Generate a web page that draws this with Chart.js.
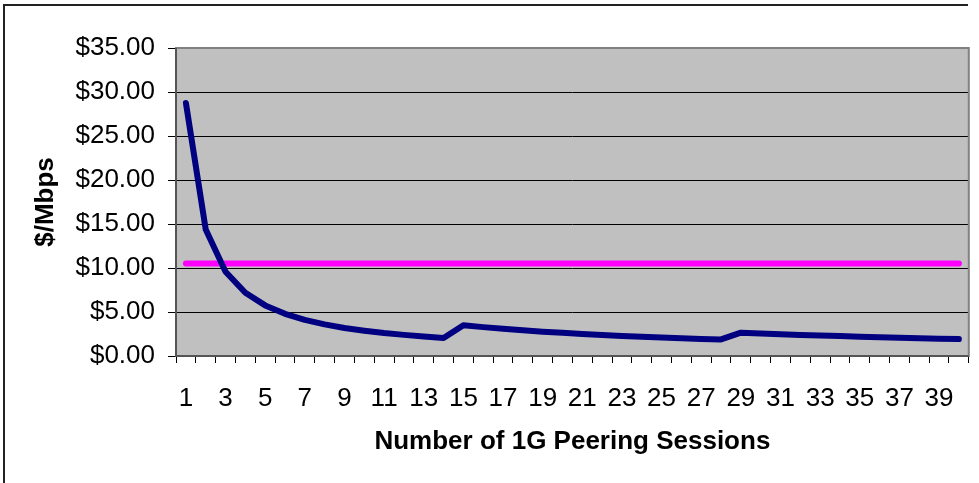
<!DOCTYPE html>
<html>
<head>
<meta charset="utf-8">
<script src="https://cdn.jsdelivr.net/npm/chart.js@4/dist/chart.umd.min.js"></script>
<style>
  html, body { margin: 0; padding: 0; background: #fff; }
  #wrap { width: 979px; height: 483px; position: relative; }
</style>
</head>
<body>
<div id="wrap"><canvas id="cost"></canvas></div>
<script>
const sessions = ['1','2','3','4','5','6','7','8','9','10','11','12','13','14','15','16','17','18','19','20',
  '21','22','23','24','25','26','27','28','29','30','31','32','33','34','35','36','37','38','39','40'];
const costPerMbps = [28.75, 14.38, 9.58, 7.19, 5.75, 4.79, 4.11, 3.59, 3.19, 2.88,
  2.61, 2.40, 2.21, 2.05, 3.50, 3.28, 3.09, 2.92, 2.76, 2.63,
  2.50, 2.39, 2.28, 2.19, 2.10, 2.02, 1.94, 1.88, 2.65, 2.56,
  2.48, 2.40, 2.33, 2.26, 2.20, 2.13, 2.08, 2.02, 1.97, 1.92];
const transitPrice = [10.5, 10.5, 10.5, 10.5, 10.5, 10.5, 10.5, 10.5, 10.5, 10.5,
  10.5, 10.5, 10.5, 10.5, 10.5, 10.5, 10.5, 10.5, 10.5, 10.5,
  10.5, 10.5, 10.5, 10.5, 10.5, 10.5, 10.5, 10.5, 10.5, 10.5,
  10.5, 10.5, 10.5, 10.5, 10.5, 10.5, 10.5, 10.5, 10.5, 10.5];
const yTicks = [0, 5, 10, 15, 20, 25, 30, 35];

const FONT = "Arial, 'Liberation Sans', sans-serif";

// grey plot area, its border and the outer frame
const plotBox = {
  id: 'plotBox',
  beforeDraw(chart) {
    const { ctx, chartArea: a } = chart;
    ctx.save();
    ctx.fillStyle = '#c0c0c0';
    ctx.fillRect(a.left, a.top, a.right - a.left, a.bottom - a.top);
    ctx.strokeStyle = '#222';
    ctx.lineWidth = 2;
    ctx.beginPath();
    ctx.moveTo(4, 483);
    ctx.lineTo(4, 5);
    ctx.lineTo(968, 5);
    ctx.stroke();
    ctx.restore();
  },
  beforeDatasetsDraw(chart) {
    const { ctx, chartArea: a } = chart;
    ctx.save();
    ctx.strokeStyle = '#808080';
    ctx.lineWidth = 2;
    ctx.strokeRect(a.left, a.top, a.right - a.left, a.bottom - a.top);
    ctx.strokeStyle = '#555';
    ctx.beginPath();
    ctx.moveTo(a.left, a.top);
    ctx.lineTo(a.left, a.bottom);
    ctx.lineTo(a.right, a.bottom);
    ctx.stroke();
    ctx.restore();
  }
};

new Chart(document.getElementById('cost'), {
  type: 'line',
  data: {
    labels: sessions,
    datasets: [
      {
        data: costPerMbps,
        borderColor: '#000080',
        borderWidth: 6,
        borderCapStyle: 'round',
        borderJoinStyle: 'round',
        pointRadius: 0,
        tension: 0
      },
      {
        data: transitPrice,
        borderColor: '#ff00ff',
        borderWidth: 6,
        borderCapStyle: 'round',
        pointRadius: 0,
        tension: 0
      }
    ]
  },
  options: {
    responsive: true,
    maintainAspectRatio: false,
    animation: false,
    layout: { padding: { top: 48, right: 10, left: 0, bottom: 0 } },
    plugins: { legend: { display: false }, tooltip: { enabled: false } },
    scales: {
      x: {
        offset: true,
        grid: { offset: true, drawOnChartArea: false, drawTicks: true, tickLength: 7, color: '#000' },
        border: { display: false },
        ticks: {
          autoSkip: false,
          maxRotation: 0,
          color: '#000',
          padding: 20,
          font: { family: FONT, size: 26 },
          callback: (v, i) => (i % 2 === 0 ? sessions[i] : '')
        },
        title: {
          display: true,
          text: 'Number of 1G Peering Sessions',
          color: '#000',
          font: { family: FONT, size: 26, weight: 'bold' },
          padding: { top: 0, bottom: 26 }
        },
        afterFit: (s) => { s.height = 127; }
      },
      y: {
        min: 0,
        max: 35,
        grid: { color: '#000', lineWidth: 1, tickLength: 8 },
        border: { display: false },
        afterBuildTicks: (s) => { s.ticks = yTicks.map(v => ({ value: v })); },
        ticks: {
          color: '#000',
          padding: 13,
          font: { family: FONT, size: 26 },
          callback: (v) => '$' + Number(v).toFixed(2)
        },
        title: {
          display: true,
          text: '$/Mbps',
          color: '#000',
          font: { family: FONT, size: 26, weight: 'bold' },
          padding: { top: 30, bottom: 0 }
        },
        afterFit: (s) => { s.width = 176; }
      }
    }
  },
  plugins: [plotBox]
});
</script>
</body>
</html>
